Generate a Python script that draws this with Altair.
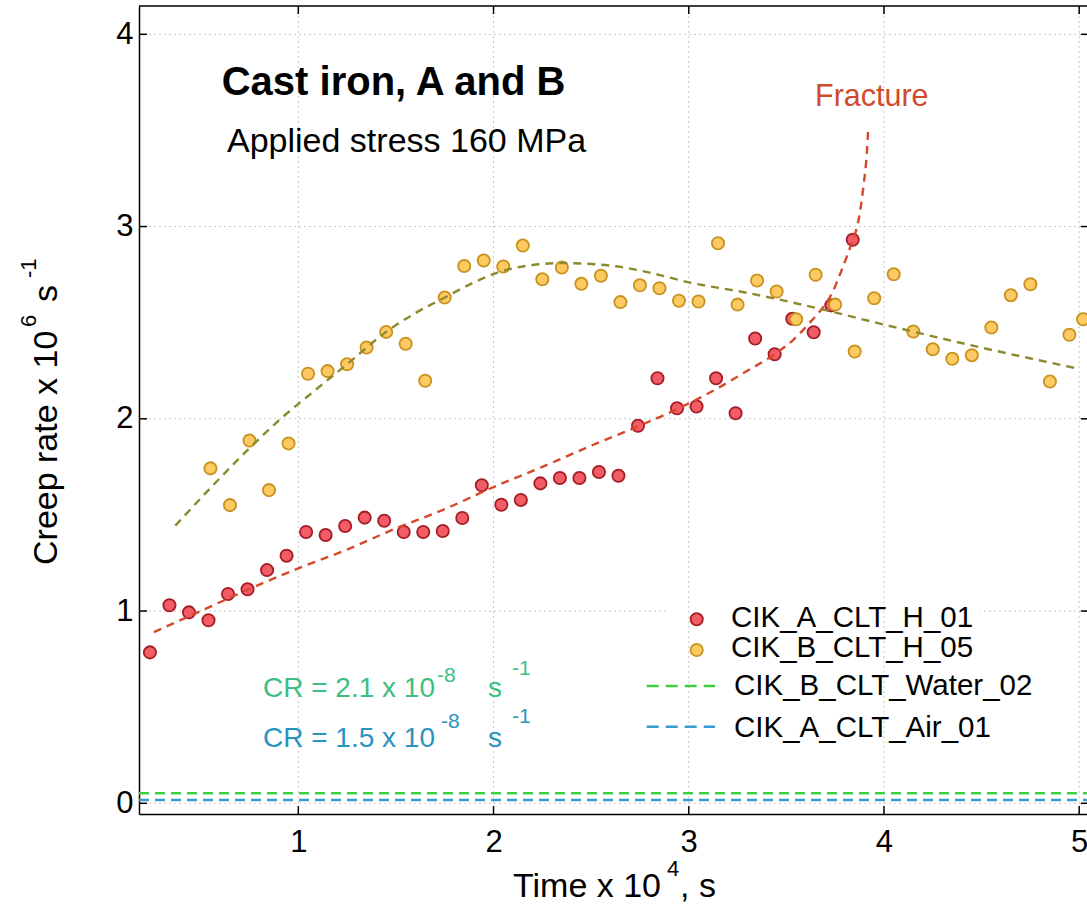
import altair as alt
import pandas as pd

# ---------------- data ----------------
red_x = [0.24, 0.34, 0.44, 0.54, 0.64, 0.74, 0.84, 0.94, 1.04, 1.14, 1.24, 1.34, 1.44,
         1.54, 1.64, 1.74, 1.84, 1.94, 2.04, 2.14, 2.24, 2.34, 2.44, 2.54, 2.64, 2.74,
         2.84, 2.94, 3.04, 3.14, 3.24, 3.34, 3.44, 3.53, 3.64, 3.73, 3.84]
red_y = [0.785, 1.03, 0.993, 0.952, 1.089, 1.113, 1.213, 1.288, 1.411, 1.396, 1.442, 1.486,
         1.470, 1.411, 1.411, 1.416, 1.484, 1.654, 1.553, 1.578, 1.664, 1.692, 1.692, 1.723,
         1.704, 1.964, 2.211, 2.055, 2.064, 2.211, 2.029, 2.418, 2.336, 2.52, 2.450, 2.59, 2.931]

orange_x = [0.55, 0.65, 0.75, 0.85, 0.95, 1.05, 1.15, 1.25, 1.35, 1.45, 1.55, 1.65, 1.75,
            1.85, 1.95, 2.05, 2.15, 2.25, 2.35, 2.45, 2.55, 2.65, 2.75, 2.85, 2.95, 3.05,
            3.15, 3.25, 3.35, 3.45, 3.55, 3.65, 3.75, 3.85, 3.95, 4.05, 4.15, 4.25, 4.35,
            4.45, 4.55, 4.65, 4.75, 4.85, 4.95, 5.02]
orange_y = [1.742, 1.551, 1.887, 1.629, 1.872, 2.234, 2.248, 2.284, 2.371, 2.452, 2.390,
            2.198, 2.631, 2.795, 2.823, 2.792, 2.901, 2.726, 2.787, 2.702, 2.744, 2.607,
            2.695, 2.679, 2.614, 2.610, 2.913, 2.594, 2.719, 2.662, 2.518, 2.749, 2.594,
            2.350, 2.627, 2.752, 2.454, 2.362, 2.312, 2.331, 2.475, 2.643, 2.700, 2.194,
            2.437, 2.518]

red_fit_x = [0.26, 0.5, 0.75, 1.0, 1.25, 1.5, 1.75, 2.0, 2.25, 2.5, 2.75, 2.95, 3.15, 3.3,
             3.44, 3.54, 3.62, 3.68, 3.73, 3.78, 3.81, 3.84, 3.865, 3.895, 3.912, 3.919]
red_fit_y = [0.89, 1.00, 1.115, 1.222, 1.32, 1.43, 1.53, 1.645, 1.75, 1.86, 1.965, 2.055,
             2.16, 2.25, 2.336, 2.415, 2.50, 2.57, 2.645, 2.765, 2.845, 2.93, 3.01, 3.21,
             3.38, 3.50]

orange_fit_x = [0.37, 0.55, 0.75, 0.91, 1.1, 1.25, 1.45, 1.6, 1.75, 1.9, 2.05, 2.2, 2.35,
                2.5, 2.65, 2.8, 3.0, 3.3, 3.7, 4.0, 4.5, 5.0]
orange_fit_y = [1.444, 1.64, 1.847, 2.0, 2.16, 2.284, 2.452, 2.55, 2.631, 2.71, 2.77, 2.80,
                2.81, 2.805, 2.79, 2.76, 2.71, 2.655, 2.565, 2.49, 2.37, 2.26]

cr_names = ["CIK_B_CLT_Water_02", "CIK_A_CLT_Air_01"]
cr_levels = [0.052, 0.017]

x_ticks = [1, 2, 3, 4, 5]
y_ticks = [0, 1, 2, 3, 4]

# ---------------- layout ----------------
FONT = "Liberation Sans"
W, H = 948, 808
xs = alt.Scale(domain=[0.184, 5.040], nice=False, zero=False)
ys = alt.Scale(domain=[-0.0557, 4.1472], nice=False, zero=False)

AX = alt.Axis(values=x_ticks, ticks=False, grid=False, labelFontSize=31, labelFont=FONT,
              labelColor="black", labelPadding=13, domainColor="black", domainWidth=1.5,
              title=None, format="d")
AY = alt.Axis(values=y_ticks, ticks=False, grid=False, labelFontSize=31, labelFont=FONT,
              labelColor="black", labelPadding=6, domainColor="black", domainWidth=1.5,
              title=None, format="d")

def X(f):
    return alt.X(f, type="quantitative", scale=xs, axis=AX)

def Y(f):
    return alt.Y(f, type="quantitative", scale=ys, axis=AY)

red = pd.DataFrame({"x": red_x, "y": red_y})
orange = pd.DataFrame({"x": orange_x, "y": orange_y})
red_fit = pd.DataFrame({"x": red_fit_x, "y": red_fit_y})
orange_fit = pd.DataFrame({"x": orange_fit_x, "y": orange_fit_y})
cr = pd.DataFrame({"name": cr_names, "y": cr_levels})
xt = pd.DataFrame({"v": x_ticks})
yt = pd.DataFrame({"v": y_ticks})
one = pd.DataFrame({"a": [0]})

GRID = dict(color="#c9c9c9", strokeWidth=1, strokeDash=[2, 3])

hgrid = alt.Chart(yt).mark_rule(**GRID).encode(
    y=Y("v"), x=alt.value(0), x2=alt.value(W))
legend_bg = alt.Chart(one).mark_rect(color="white").encode(
    x=alt.value(528), x2=alt.value(841), y=alt.value(592), y2=alt.value(739))
vgrid = alt.Chart(xt).mark_rule(**GRID).encode(
    x=X("v"), y=alt.value(0), y2=alt.value(H))

cr_colors = {"CIK_B_CLT_Water_02": "#3fcf3f", "CIK_A_CLT_Air_01": "#3a9bd0"}
cr_lines = [
    alt.Chart(cr[cr["name"] == n]).mark_rule(color=c, strokeWidth=2.6, strokeDash=[10, 6]).encode(
        y=Y("y"), x=alt.value(0), x2=alt.value(W))
    for n, c in cr_colors.items()
]

red_pts = alt.Chart(red).mark_point(shape="circle", filled=True, size=150, fill="#f25c64",
                                    stroke="#a51d26", strokeWidth=1.8, opacity=1,
                                    clip=True).encode(x=X("x"), y=Y("y"))
orange_pts = alt.Chart(orange).mark_point(shape="circle", filled=True, size=150, fill="#fcc962",
                                          stroke="#c8921c", strokeWidth=1.8, opacity=1,
                                          clip=True).encode(x=X("x"), y=Y("y"))

red_line = alt.Chart(red_fit).mark_line(color="#d6482c", strokeWidth=2.4, strokeDash=[8, 6],
                                        interpolate="monotone").encode(x=X("x"), y=Y("y"))
orange_line = alt.Chart(orange_fit).mark_line(color="#8c8a2e", strokeWidth=2.4,
                                              strokeDash=[8, 6],
                                              interpolate="monotone").encode(x=X("x"), y=Y("y"))

TICK = dict(color="black", strokeWidth=1.5)
bottom_ticks = alt.Chart(xt).mark_rule(**TICK).encode(x=X("v"), y=alt.value(H), y2=alt.value(H - 8))
top_ticks = alt.Chart(xt).mark_rule(**TICK).encode(x=X("v"), y=alt.value(0), y2=alt.value(8))
left_ticks = alt.Chart(yt).mark_rule(**TICK).encode(y=Y("v"), x=alt.value(0), x2=alt.value(8))
right_ticks = alt.Chart(yt).mark_rule(**TICK).encode(y=Y("v"), x=alt.value(W - 6), x2=alt.value(W))
top_border = alt.Chart(one).mark_rule(color="black", strokeWidth=1.5).encode(
    x=alt.value(0), x2=alt.value(W), y=alt.value(0))


def txt(s, px, py, size, color="black", weight="normal", angle=0):
    return alt.Chart(one).mark_text(text=s, fontSize=size, font=FONT, color=color,
                                    fontWeight=weight, angle=angle, align="left",
                                    baseline="alphabetic").encode(
        x=alt.value(px), y=alt.value(py))

GREEN_T = "#3cbf80"
BLUE_T = "#2a93bf"
texts = [
    txt("Cast iron, A and B", 82.7, 89, 40, weight="bold"),
    txt("Applied stress 160 MPa", 88, 146, 34),
    txt("Fracture", 676, 100, 30.5, color="#d04a2c"),
    txt("CR = 2.1 x 10", 124, 691, 28, color=GREEN_T),
    txt("-8", 298, 675.7, 21, color=GREEN_T),
    txt("s", 349, 691, 28, color=GREEN_T),
    txt("-1", 373, 669, 21, color=GREEN_T),
    txt("CR = 1.5 x 10", 124, 740.7, 28, color=BLUE_T),
    txt("-8", 302, 722, 21, color=BLUE_T),
    txt("s", 349, 740.7, 28, color=BLUE_T),
    txt("-1", 373, 717, 21, color=BLUE_T),
    # axis titles
    txt("Time x 10", 374, 891, 34),
    txt("4", 528, 870, 22),
    txt(", s", 541, 891, 34),
    txt("Creep rate x 10", -82, 559, 34, angle=270),
    txt("6", -103, 321, 22, angle=270),
    txt("s", -82, 296, 34, angle=270),
    txt("-1", -103, 272, 22, angle=270),
    # legend labels
    txt("CIK_A_CLT_H_01", 592, 620.7, 29.5),
    txt("CIK_B_CLT_H_05", 592, 651.3, 29.5),
    txt("CIK_B_CLT_Water_02", 595, 689, 29.5),
    txt("CIK_A_CLT_Air_01", 595, 730.7, 29.5),
]

legend_marks = [
    alt.Chart(one).mark_point(shape="circle", filled=True, size=150, fill="#f25c64",
                              stroke="#a51d26", strokeWidth=1.8, opacity=1).encode(
        x=alt.value(557.7), y=alt.value(613.3)),
    alt.Chart(one).mark_point(shape="circle", filled=True, size=150, fill="#fcc962",
                              stroke="#c8921c", strokeWidth=1.8, opacity=1).encode(
        x=alt.value(557.7), y=alt.value(644)),
    alt.Chart(one).mark_rule(color="#3fcf3f", strokeWidth=2.6, strokeDash=[12, 7]).encode(
        x=alt.value(507.7), x2=alt.value(576), y=alt.value(680)),
    alt.Chart(one).mark_rule(color="#3a9bd0", strokeWidth=2.6, strokeDash=[12, 7]).encode(
        x=alt.value(507.7), x2=alt.value(576), y=alt.value(720.7)),
]

chart = alt.layer(
    hgrid, legend_bg, vgrid, *cr_lines, red_pts, orange_pts, red_line, orange_line,
    bottom_ticks, top_ticks, left_ticks, right_ticks, top_border, *legend_marks, *texts
).properties(
    width=W, height=H,
    padding={"left": 139, "top": 6, "right": 0, "bottom": 92},
    autosize=alt.AutoSizeParams(type="none"),
    background="white",
).configure_view(stroke=None)

chart.save("out.html", embed_options={"renderer": "svg", "actions": False})
